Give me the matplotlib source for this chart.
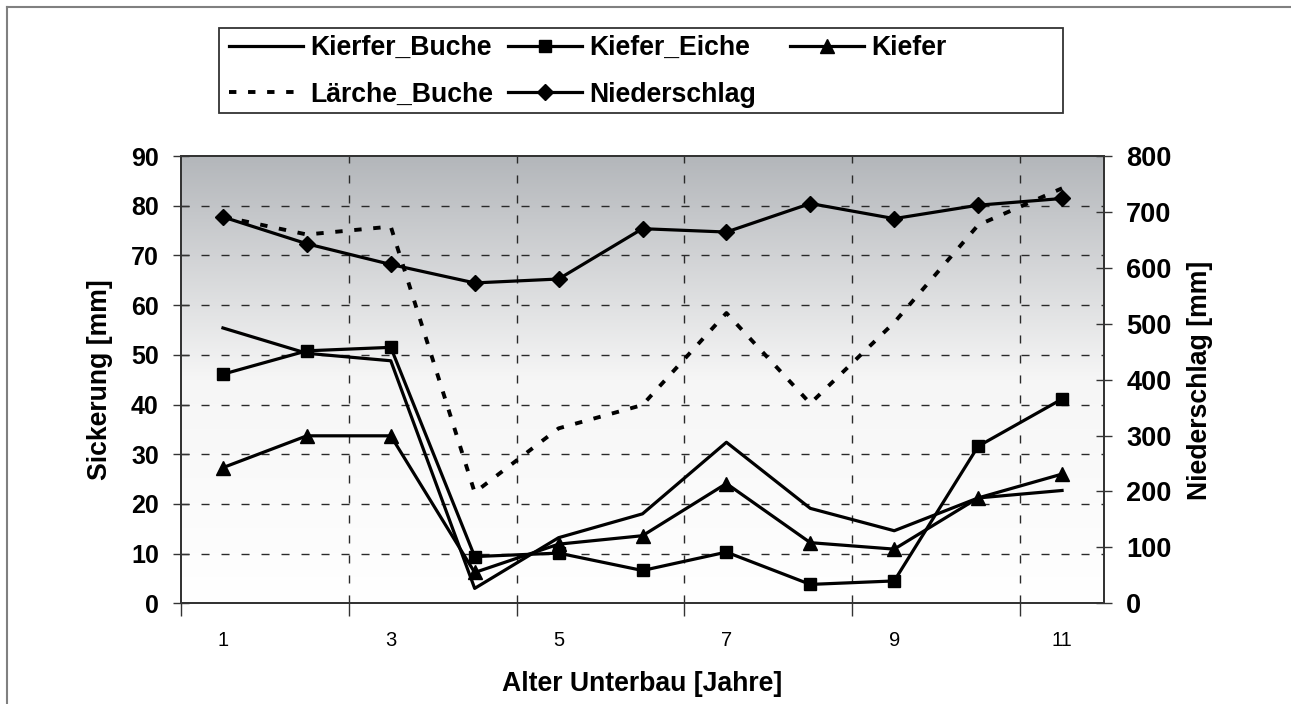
import numpy as np
import matplotlib
matplotlib.use("Agg")
import matplotlib.pyplot as plt
from matplotlib.colors import LinearSegmentedColormap
from matplotlib.lines import Line2D
from matplotlib.patches import Rectangle

# ---------------- data ----------------
years = list(range(1, 12))
year_labels = ["1", "", "3", "", "5", "", "7", "", "9", "", "11"]
kierfer_buche = [55.4, 50.3, 48.8, 3.0, 13.2, 18.0, 32.4, 19.1, 14.6, 21.2, 22.7]
kiefer_eiche = [46.1, 50.8, 51.5, 9.4, 10.1, 6.6, 10.3, 3.8, 4.5, 31.6, 41.1]
kiefer = [27.3, 33.7, 33.7, 6.2, 11.9, 13.6, 24.1, 12.2, 10.9, 21.2, 26.0]
laerche_buche = [77.8, 74.2, 75.8, 22.3, 35.2, 39.9, 58.4, 40.2, 56.5, 76.1, 83.5]
niederschlag = [691, 643, 606, 573, 580, 670, 664, 715, 688, 712, 724]

plt.rcParams['font.family'] = ['Liberation Sans', 'DejaVu Sans']

W, H = 1291, 704
fig = plt.figure(figsize=(W / 100, H / 100), dpi=100)

def px(x0, y0, x1, y1):
    return [x0 / W, 1 - y1 / H, (x1 - x0) / W, (y1 - y0) / H]

ax = fig.add_axes(px(181, 156, 1104, 603.3))
ax2 = ax.twinx()

ax.set_xlim(0.5, 11.5)
ax.set_ylim(0, 90)
ax2.set_ylim(0, 800)

# gradient background
cmap = LinearSegmentedColormap.from_list("bg", ["#ffffff", "#f6f6f6", "#b3b6ba"])
grad = np.linspace(0, 1, 256).reshape(-1, 1)
ax.imshow(grad, extent=[0.5, 11.5, 0, 90], origin="lower", aspect="auto",
          cmap=cmap, zorder=0, interpolation="bicubic")
ax.set_xlim(0.5, 11.5)
ax.set_ylim(0, 90)

# grid
grid_kw = dict(color="#2a2a2a", lw=1.0, ls=(0, (5.8, 8.6)), zorder=1)
for yv in range(10, 90, 10):
    ax.axhline(yv, **grid_kw)
for xv in [2.5, 4.5, 6.5, 8.5, 10.5]:
    ax.axvline(xv, **grid_kw)

lw = 2.3
l_kb, = ax.plot(years, kierfer_buche, color="black", lw=lw, zorder=3)
l_ke, = ax.plot(years, kiefer_eiche, color="black", lw=lw, marker="s", ms=9, zorder=3)
l_k, = ax.plot(years, kiefer, color="black", lw=lw, marker="^", ms=10, zorder=3)
l_lb, = ax.plot(years, laerche_buche, color="black", lw=2.8, ls=(0, (1.9, 3.0)), zorder=3)
l_n, = ax2.plot(years, niederschlag, color="black", lw=lw, marker="D", ms=8.5, zorder=3)

# axes styling
for a in (ax, ax2):
    for s in a.spines.values():
        s.set_color("#333333")
        s.set_linewidth(1.3)
ax2.patch.set_visible(False)

ax.set_xticks([0.5, 2.5, 4.5, 6.5, 8.5, 10.5])
ax.set_xticklabels([])
ax.set_xticks(years, minor=True)
ax.set_xticklabels(year_labels, minor=True, fontsize=14.5)
ax.tick_params(axis="x", which="major", direction="out", length=9, width=1, color="#333333")
ax.tick_params(axis="x", which="minor", length=0, pad=20)

ax.set_yticks(range(0, 91, 10))
ax.tick_params(axis="y", direction="inout", length=12, width=1, color="#333333",
               labelsize=18, pad=10)
for t in ax.get_yticklabels():
    t.set_fontweight("bold")
ax2.set_yticks(range(0, 801, 100))
ax2.tick_params(axis="y", direction="inout", length=12, width=1, color="#333333",
                labelsize=19.5, pad=10)
for t in ax2.get_yticklabels():
    t.set_fontweight("bold")

fig.text(100 / W, 1 - 380 / H, "Sickerung [mm]", rotation=90, ha="center", va="center",
         fontsize=19.2, fontweight="bold")
fig.text(1200 / W, 1 - 380 / H, "Niederschlag [mm]", rotation=90, ha="center", va="center",
         fontsize=19.2, fontweight="bold")
fig.text(642 / W, 1 - 684 / H, "Alter Unterbau [Jahre]", ha="center", va="center",
         fontsize=19.2, fontweight="bold")

# legend frame
fig.patches.append(Rectangle((219 / W, 1 - 113 / H), (1063 - 219) / W, (113 - 28) / H,
                             transform=fig.transFigure, fill=False, edgecolor="#333333",
                             lw=1.3, zorder=5))
leg_kw = dict(frameon=False, loc="upper left", borderpad=0, borderaxespad=0,
              handlelength=2.77, handletextpad=0.27, labelspacing=0.77,
              prop={"weight": "bold", "size": 19.2})
fig.legend([l_kb, l_lb], ["Kierfer_Buche", "Lärche_Buche"],
           bbox_to_anchor=(229 / W, 1 - 35 / H), **leg_kw)
fig.legend([l_ke, l_n], ["Kiefer_Eiche", "Niederschlag"],
           bbox_to_anchor=(508 / W, 1 - 35 / H), **leg_kw)
fig.legend([l_k], ["Kiefer"],
           bbox_to_anchor=(790 / W, 1 - 35 / H), **leg_kw)

# outer chart border (left and top visible)
fig.add_artist(Line2D([7 / W, 7 / W], [0, 1 - 7 / H], transform=fig.transFigure,
                      color="#808080", lw=1.5))
fig.add_artist(Line2D([7 / W, 1], [1 - 7 / H, 1 - 7 / H], transform=fig.transFigure,
                      color="#808080", lw=1.5))

fig.savefig("out.png", dpi=100)
